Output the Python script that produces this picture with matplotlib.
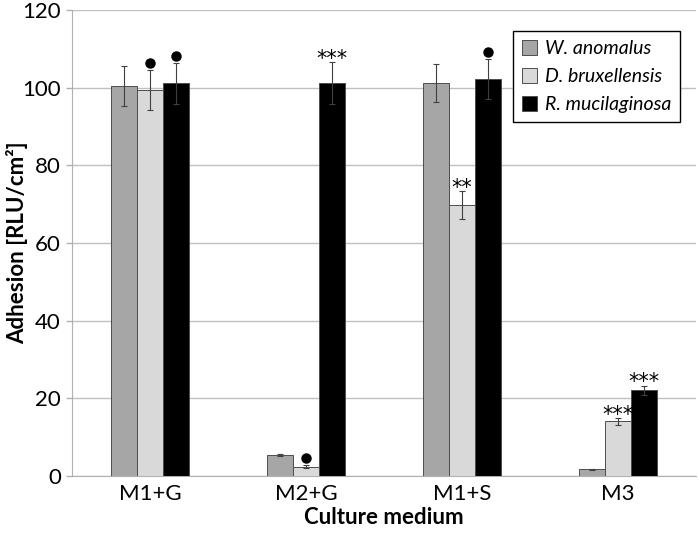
import numpy as np
import matplotlib.pyplot as plt
from matplotlib.patches import Patch

plt.rcParams['font.family'] = ['Lato', 'DejaVu Sans']

media = ['M1+G', 'M2+G', 'M1+S', 'M3']
species = ['W. anomalus', 'D. bruxellensis', 'R. mucilaginosa']
colors = ['#a6a6a6', '#d9d9d9', '#000000']

w_anom = [100.5, 5.4, 101.2, 1.7]
d_brux = [99.4, 2.4, 69.7, 14.1]
r_muci = [101.1, 101.1, 102.2, 22.1]

w_err = [5.1, 0.3, 5.0, 0.15]
d_err = [5.1, 0.4, 3.6, 0.9]
r_err = [5.2, 5.4, 5.2, 1.2]

# significance marks: (medium index, species index, mark)
marks = [(0, 1, 'dot'), (0, 2, 'dot'), (1, 1, 'dot'), (1, 2, '***'),
         (2, 1, '**'), (2, 2, 'dot'), (3, 1, '***'), (3, 2, '***')]

values = [w_anom, d_brux, r_muci]
errors = [w_err, d_err, r_err]

fig = plt.figure(figsize=(6.99, 5.34), dpi=100)
ax = fig.add_axes([0.103, 0.1086, 0.893, 0.8727])

x = np.arange(len(media))
bw = 0.167
for i in range(3):
    xs = x + (i - 1) * bw
    ax.bar(xs, values[i], bw, color=colors[i], edgecolor='#4d4d4d',
           linewidth=0.7, zorder=3)
    ax.errorbar(xs, values[i], yerr=errors[i], fmt='none', ecolor='#404040',
                elinewidth=0.8, capsize=2, capthick=0.8, zorder=4)

for m, s, txt in marks:
    xs = x[m] + (s - 1) * bw
    top = values[s][m] + errors[s][m]
    if txt == 'dot':
        ax.plot(xs, top + 1.8, 'o', color='black', markersize=6.5, zorder=5)
    else:
        ax.annotate(txt, (xs, top), xytext=(0, -5), textcoords='offset points',
                    ha='center', va='bottom', fontsize=15,
                    family='DejaVu Sans', zorder=5)

ax.set_xlim(-0.5, 3.5)
ax.set_ylim(0, 120)
ax.set_yticks(np.arange(0, 121, 20))
ax.set_xticks(x)
ax.set_xticklabels(media)
ax.tick_params(axis='y', labelsize=16, length=4, color='#b0b0b0', width=1, pad=4)
ax.tick_params(axis='x', labelsize=16, length=0, pad=6)
ax.yaxis.grid(True, color='#c0c0c0', linewidth=1)
ax.set_axisbelow(True)
for sp in ['top', 'right']:
    ax.spines[sp].set_visible(False)
ax.spines['left'].set_color('#b0b0b0')
ax.spines['bottom'].set_color('#b0b0b0')

ax.set_ylabel('Adhesion [RLU/cm²]', fontsize=16, fontweight='bold')
ax.yaxis.set_label_coords(-0.07, 0.5)
ax.set_xlabel('Culture medium', fontsize=16, fontweight='bold', labelpad=2)

handles = [Patch(facecolor=c, edgecolor='#4d4d4d', linewidth=0.7) for c in colors]
leg = ax.legend(handles, species, loc='upper right', bbox_to_anchor=(0.99, 0.975),
                prop={'style': 'italic', 'size': 14}, fancybox=False,
                edgecolor='black', framealpha=1, handlelength=0.8,
                handleheight=0.8, handletextpad=0.4, borderpad=0.45,
                labelspacing=0.55)
leg.get_frame().set_linewidth(1)

fig.savefig('out.png')
